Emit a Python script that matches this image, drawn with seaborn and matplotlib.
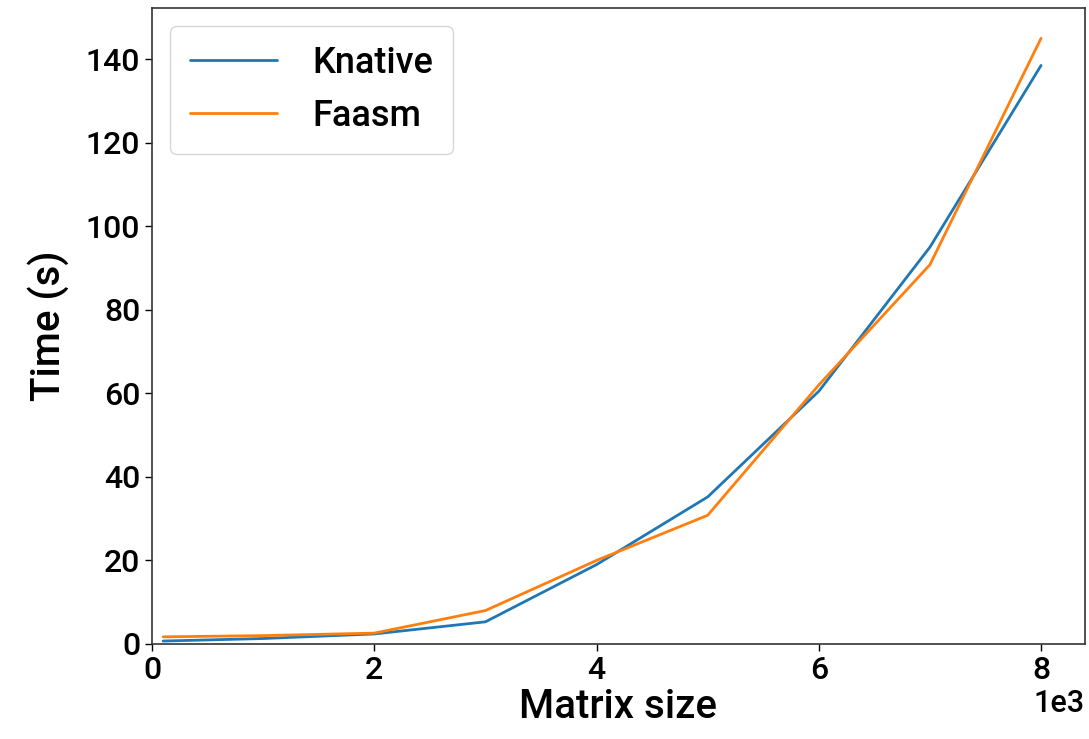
import matplotlib
matplotlib.use("Agg")
import matplotlib.pyplot as plt
import matplotlib.ticker as mticker
import seaborn as sns
import pandas as pd

matrix_sizes = [100, 1000, 2000, 3000, 4000, 5000, 6000, 7000, 8000]
knative_times = [0.7, 1.3, 2.4, 5.3, 19.0, 35.2, 60.5, 95.0, 138.5]
faasm_times = [1.7, 2.0, 2.6, 8.0, 20.0, 30.8, 62.0, 90.8, 145.0]
series_names = ["Knative", "Faasm"]

df = pd.DataFrame({
    "Matrix size": matrix_sizes * 2,
    "Time (s)": knative_times + faasm_times,
    "System": [series_names[0]] * len(matrix_sizes) + [series_names[1]] * len(matrix_sizes),
})

sns.set_style("ticks")
plt.rcParams["font.family"] = ["Roboto", "DejaVu Sans"]
plt.rcParams["font.weight"] = 500
plt.rcParams["axes.labelweight"] = 500
plt.rcParams["text.color"] = "black"
plt.rcParams["axes.labelcolor"] = "black"
plt.rcParams["xtick.color"] = "black"
plt.rcParams["ytick.color"] = "black"

fig = plt.figure(figsize=(10.89, 7.39), dpi=100)
ax = fig.add_axes([0.1396, 0.1286, 0.8567, 0.8604])

sns.lineplot(data=df, x="Matrix size", y="Time (s)", hue="System",
             palette=["#1f77b4", "#ff7f0e"], linewidth=2, ax=ax)

ax.set_xlim(left=0)
ax.set_ylim(bottom=0)
ax.xaxis.set_major_locator(mticker.MultipleLocator(2000))
ax.ticklabel_format(style="sci", axis="x", scilimits=(0, 0))
ax.xaxis.get_offset_text().set_fontsize(22)
ax.tick_params(labelsize=23, length=5, width=1, colors="black")
ax.set_xlabel("Matrix size", fontsize=29, labelpad=2, fontweight=500)
ax.set_ylabel("Time (s)", fontsize=29, labelpad=12, fontweight=500)
for s in ax.spines.values():
    s.set_linewidth(1.2)
    s.set_color("#333333")

ax.legend(title=None, fontsize=26, handlelength=2.4, handletextpad=1.0,
          loc="upper left", borderpad=0.55, labelspacing=0.5)

fig.savefig("out.png", dpi=100)
